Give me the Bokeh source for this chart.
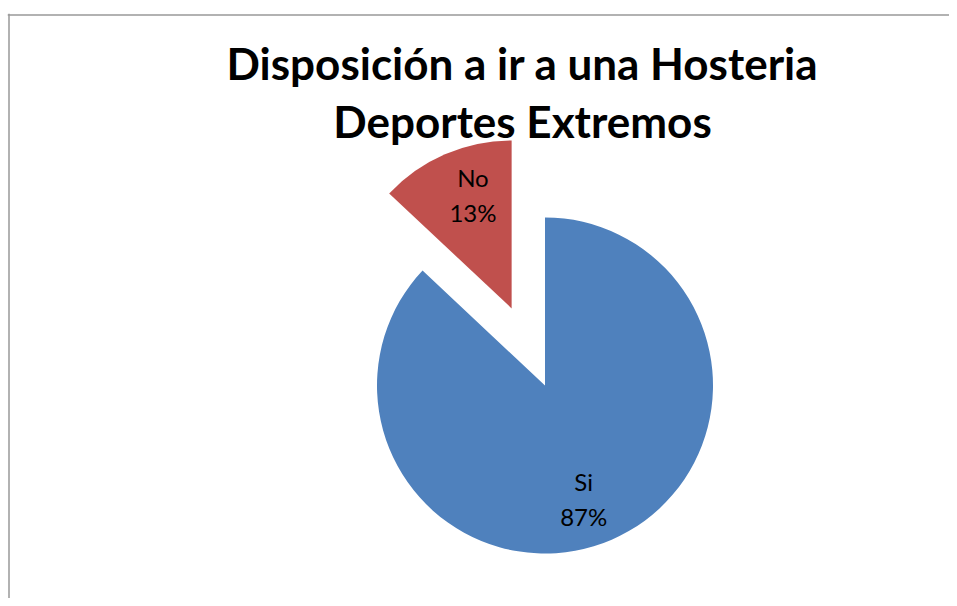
import math
from bokeh.plotting import figure
from bokeh.models import Range1d, Span, Label, ColumnDataSource
from bokeh.core.properties import value
from bokeh.embed import file_html
from bokeh.resources import INLINE

# ---- data ----
categories = ["Si", "No"]
shares = [87, 13]
colors = ["#4F81BD", "#C0504D"]
explode = [0.0, 0.5]
title_lines = ["Disposición a ir a una Hosteria", "Deportes Extremos"]

W, H = 949, 598
p = figure(width=W, height=H, output_backend="svg", toolbar_location=None,
           x_range=Range1d(7, W), y_range=Range1d(0, H - 13),
           min_border_left=7, min_border_top=13, min_border_right=0, min_border_bottom=0)
p.axis.visible = False
p.grid.visible = False
p.outline_line_color = None
p.background_fill_color = "white"

p.add_layout(Span(location=8.5, dimension="height", line_color="#999999", line_width=1.5))
p.add_layout(Span(location=H - 14.5, dimension="width", line_color="#999999", line_width=1.5))

cx, cy, r = 544.5, H - 385, 168
total = sum(shares)
# Pie is drawn clockwise from 12 o'clock
xs, ys, starts, ends, lx, ly, texts = [], [], [], [], [], [], []
ang = 90.0
for cat, s, e in zip(categories, shares, explode):
    sweep = 360.0 * s / total
    a_end = ang
    a_start = ang - sweep
    mid = (a_start + a_end) / 2
    ox = cx + e * r * math.cos(math.radians(mid))
    oy = cy + e * r * math.sin(math.radians(mid))
    xs.append(ox); ys.append(oy)
    starts.append(math.radians(a_start)); ends.append(math.radians(a_end))
    la = math.radians(mid - 4.6)
    d = 0.715 * r
    lx.append(ox + d * math.cos(la)); ly.append(oy + d * math.sin(la))
    texts.append(f"{cat}\n{round(100 * s / total)}%")
    ang = a_start

src = ColumnDataSource(dict(x=xs, y=ys, start=starts, end=ends, color=colors,
                            lx=lx, ly=ly, text=texts))
p.wedge(x="x", y="y", radius=r, start_angle="start", end_angle="end",
        direction="anticlock", fill_color="color", line_color=None, source=src)
p.text(x="lx", y="ly", text="text", source=src, text_font=value("Lato"),
       text_font_size="24px", text_align="center", text_baseline="middle",
       text_color="black", text_line_height=1.2)

for i, t in enumerate(title_lines):
    p.add_layout(Label(x=522, y=H - 62.5 - 58 * i, text=t, text_font="Lato",
                       text_font_size="44px", text_font_style="bold",
                       text_align="center", text_baseline="alphabetic", text_color="black"))

open("out.html", "w").write(file_html(p, INLINE))
